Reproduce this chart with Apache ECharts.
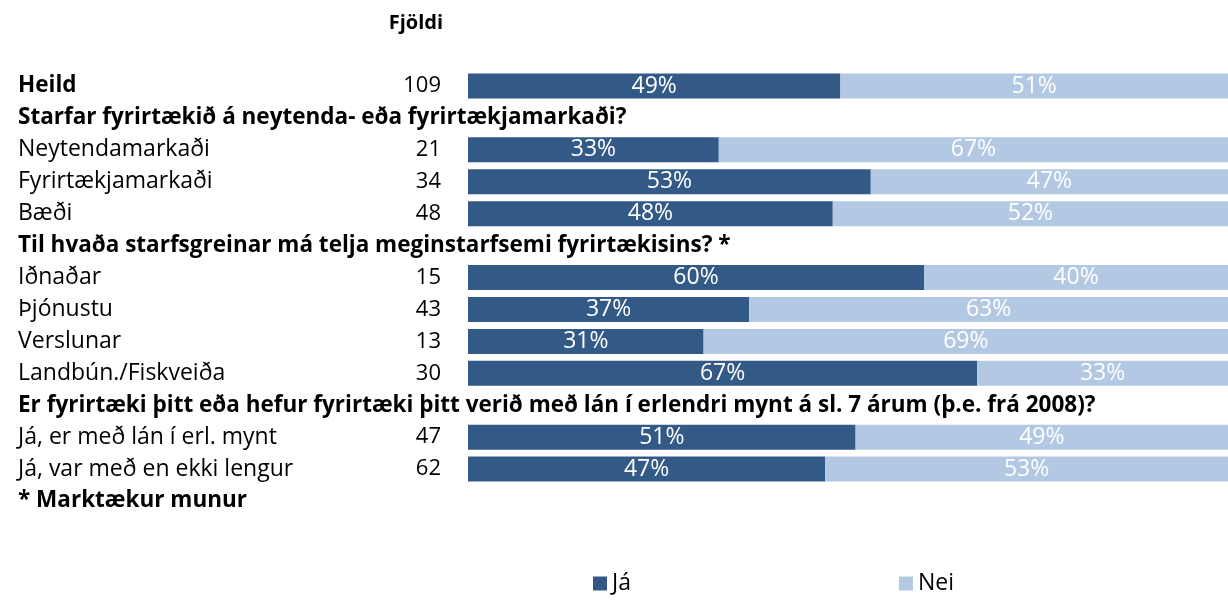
<!DOCTYPE html>
<html>
<head>
<meta charset="utf-8">
<script src="https://cdn.jsdelivr.net/npm/echarts@6/dist/echarts.min.js"></script>
<style>
  html, body { margin: 0; padding: 0; background: #fff; }
  #chart { width: 1228px; height: 600px; }
</style>
</head>
<body>
<div id="chart"></div>
<script>
// raðir, fjöldi og hlutföll (null = fyrirsagnarlína án súlu)
var categories = [
  'Heild',
  'Starfar fyrirtækið á neytenda- eða fyrirtækjamarkaði?',
  'Neytendamarkaði',
  'Fyrirtækjamarkaði',
  'Bæði',
  'Til hvaða starfsgreinar má telja meginstarfsemi fyrirtækisins? *',
  'Iðnaðar',
  'Þjónustu',
  'Verslunar',
  'Landbún./Fiskveiða',
  'Er fyrirtæki þitt eða hefur fyrirtæki þitt verið með lán í erlendri mynt á sl. 7 árum (þ.e. frá 2008)?',
  'Já, er með lán í erl. mynt',
  'Já, var með en ekki lengur',
  '* Marktækur munur'
];
var boldRows = [0, 1, 5, 10, 13];
var counts = ['109', '', '21', '34', '48', '', '15', '43', '13', '30', '', '47', '62', ''];
var ja  = [49, null, 33, 53, 48, null, 60, 37, 31, 67, null, 51, 47, null];
var nei = [51, null, 67, 47, 52, null, 40, 63, 69, 33, null, 49, 53, null];

var fontFam = '"Open Sans", sans-serif';
var myChart = echarts.init(document.getElementById('chart'));

var option = {
  animation: false,
  textStyle: { fontFamily: fontFam },
  title: {
    text: 'Fjöldi',
    right: 785,
    top: 13,
    padding: 0,
    textStyle: { fontFamily: fontFam, fontSize: 20, fontWeight: 'bold', color: '#000' }
  },
  legend: {
    left: 588,
    top: 567,
    itemWidth: 14,
    itemHeight: 14,
    itemGap: 268,
    icon: 'rect',
    textStyle: { fontFamily: fontFam, fontSize: 23, color: '#000' },
    data: ['Já', 'Nei']
  },
  grid: { left: 468, right: 0, top: 70, bottom: 83 },
  xAxis: { type: 'value', min: 0, max: 100, show: false },
  yAxis: [
    {
      type: 'category',
      inverse: true,
      data: categories,
      axisLine: { show: false },
      axisTick: { show: false },
      axisLabel: {
        align: 'left',
        margin: 450,
        interval: 0,
        formatter: function (v, i) {
          return boldRows.indexOf(i) >= 0 ? '{h|' + v + '}' : '{n|' + v + '}';
        },
        rich: {
          h: { fontFamily: fontFam, fontSize: 22.5, fontWeight: 'bold', color: '#000' },
          n: { fontFamily: fontFam, fontSize: 23, color: '#000' }
        }
      }
    },
    {
      type: 'category',
      inverse: true,
      position: 'left',
      data: counts,
      axisLine: { show: false },
      axisTick: { show: false },
      axisLabel: {
        margin: 27,
        interval: 0,
        fontFamily: fontFam,
        fontSize: 22,
        color: '#000'
      }
    }
  ],
  series: [
    {
      name: 'Já',
      type: 'bar',
      stack: 'a',
      barWidth: 25,
      data: ja,
      itemStyle: { color: '#335A87' },
      label: { show: true, position: 'inside', formatter: '{c}%', color: '#fff', fontSize: 23, fontFamily: fontFam }
    },
    {
      name: 'Nei',
      type: 'bar',
      stack: 'a',
      barWidth: 25,
      data: nei,
      itemStyle: { color: '#B3C8E3' },
      label: { show: true, position: 'inside', formatter: '{c}%', color: '#fff', fontSize: 23, fontFamily: fontFam }
    }
  ]
};

myChart.setOption(option);
</script>
</body>
</html>
